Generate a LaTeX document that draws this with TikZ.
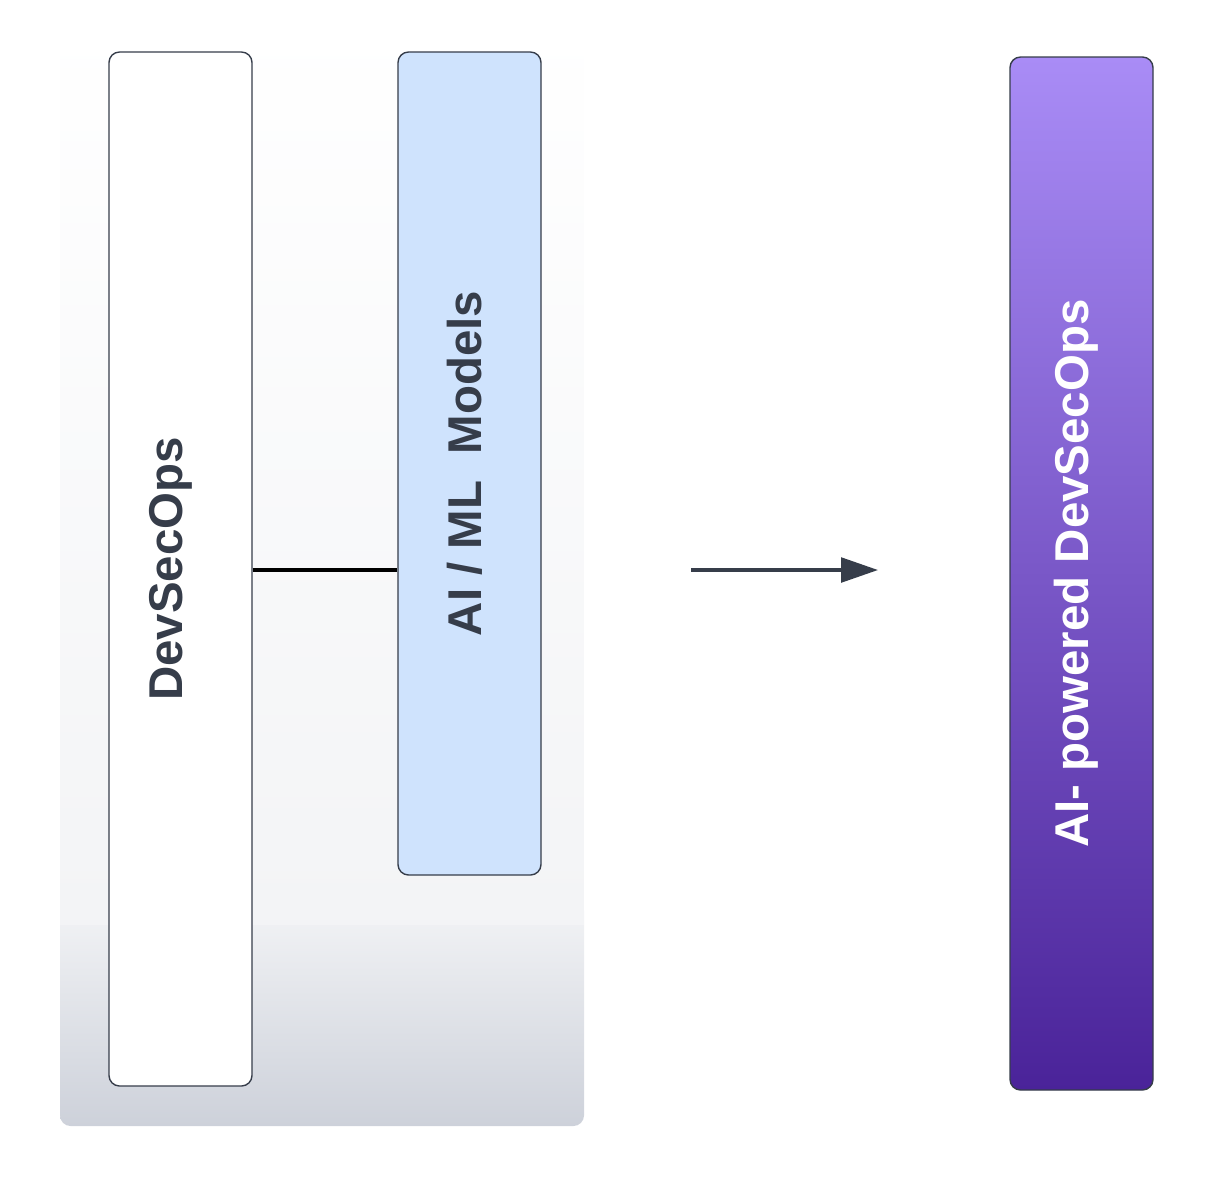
\documentclass[tikz,border=0pt]{standalone}
\usepackage{fontspec}
\setmainfont{Liberation Sans}
\usetikzlibrary{arrows.meta, positioning}
\definecolor{ink}{HTML}{363D4A}
\definecolor{aiblue}{HTML}{CFE3FD}
\definecolor{ptop}{HTML}{A98CF6}
\definecolor{pbot}{HTML}{4A2399}
\definecolor{gbot}{HTML}{CDD1DA}
\definecolor{gmid}{HTML}{F3F4F6}
\tikzset{
    bar/.style={draw=ink, rounded corners=6pt, minimum width=143*0.02cm, line width=0.8pt},
    lbl/.style={font=\bfseries\fontsize{27}{30}\selectfont, rotate=90},
}
\begin{document}
\begin{tikzpicture}[x=0.02cm, y=-0.02cm]
    \useasboundingbox (0,0) rectangle (1219,1178);

    % container
    \shade[rounded corners=6pt, top color=white, bottom color=gmid]
      (60,18) rectangle (584,920);
    \shade[rounded corners=6pt, top color=gmid, bottom color=gbot]
      (60,900) rectangle (584,1126);
    \fill[gmid] (60,895) rectangle (584,925);

    \node[bar, fill=white, minimum height=1034*0.02cm] (devsecops) at (180.5,569) {};
    \node[lbl, text=ink, yshift=0.2cm] at (devsecops) {DevSecOps};

    \node[bar, fill=aiblue, minimum height=823*0.02cm] (aiml) at (469.5,463.5) {};
    \node[lbl, text=ink, yshift=0.1cm] at (aiml) {AI / ML\ \ Models};

    \coordinate (join) at (devsecops.east |- 0,570);
    \draw[line width=2pt] (join) -- (aiml.west |- join);

    \node[bar, top color=ptop, bottom color=pbot, minimum height=1033*0.02cm] (aidso) at (1081.5,573.5) {};
    \node[lbl, text=white, yshift=0.1cm] at (aidso) {AI- powered DevSecOps};

    \coordinate (from) at (691,570);
    \coordinate (to) at (878,570);
    \draw[-{Triangle[length=21pt, width=14pt]}, ink, line width=2pt] (from) -- (to);
\end{tikzpicture}
\end{document}
